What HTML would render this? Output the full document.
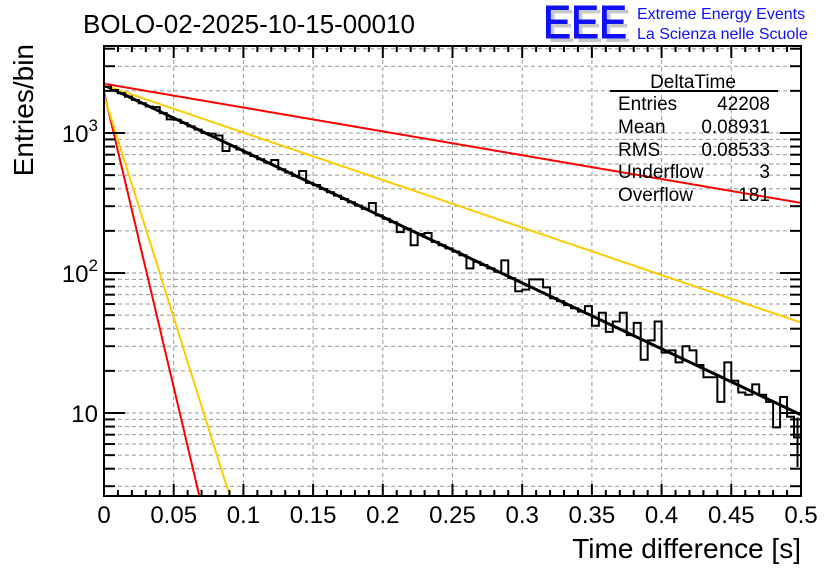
<!DOCTYPE html>
<html><head><meta charset="utf-8"><style>
html,body{margin:0;padding:0;background:#fff}
svg{display:block;font-family:"Liberation Sans",Arial,sans-serif}
</style></head><body>
<svg id="chart" width="836" height="572" viewBox="0 0 836 572" xmlns="http://www.w3.org/2000/svg">
<defs><clipPath id="plotclip"><rect x="104" y="46" width="697" height="450"/></clipPath></defs>
<rect x="0" y="0" width="836" height="572" fill="#fff"/>
<text x="83" y="33" font-size="26" textLength="332" lengthAdjust="spacingAndGlyphs">BOLO-02-2025-10-15-00010</text>
<g>
<text x="547" y="42" font-size="46" fill="#c8c8c8" textLength="84" lengthAdjust="spacingAndGlyphs">EEE</text>
<text x="543" y="38" font-size="46" fill="#1010ff" textLength="84" lengthAdjust="spacingAndGlyphs" stroke="#1010ff" stroke-width="1">EEE</text>
<text x="637" y="19" font-size="16" fill="#1010ff">Extreme Energy Events</text>
<text x="637" y="39" font-size="16" fill="#1010ff">La Scienza nelle Scuole</text>
</g>
<g id="grid"></g>
<g id="fits" clip-path="url(#plotclip)"></g>
<g id="hist" clip-path="url(#plotclip)"></g>
<g id="axes"></g>
<text x="801" y="558" font-size="28" text-anchor="end">Time difference [s]</text>
<text transform="translate(33,44) rotate(-90)" font-size="28" text-anchor="end">Entries/bin</text>
<g font-size="19">
<text x="693" y="88" text-anchor="middle">DeltaTime</text>
<line x1="610" y1="91" x2="778" y2="91" stroke="#000" stroke-width="2"/>
<text x="618" y="110">Entries</text><text x="770" y="110" text-anchor="end">42208</text>
<text x="618" y="133">Mean</text><text x="770" y="133" text-anchor="end">0.08931</text>
<text x="618" y="156">RMS</text><text x="770" y="156" text-anchor="end">0.08533</text>
<text x="618" y="178">Underflow</text><text x="770" y="178" text-anchor="end">3</text>
<text x="618" y="201">Overflow</text><text x="770" y="201" text-anchor="end">181</text>
</g>
</svg>
<script>
const binWidth = 0.005;
const counts = [2141,2028,1921,1819,1723,1632,1546,1530,1387,1250,1244,1179,1116,1057,1001,990,960,743,806,763,
723,685,649,614,642,551,522,494,535,440,425,398,377,357,338,320,303,287,316,258,
244,231,196,207,158,190,193,167,158,150,142,134,108,120,114,108,102,123,92,74,
76,90,90,79,66,63,59,56,53,58,42,52,38,45,52,36,44,24,33,45,
27,28,23,30,28,22,18,18,12,23,17,14,13.5,16,13.5,12,7.9,13,9.4,6.7];
const fitAmp = [2200, 2250, 2200, 1960, 1850];
const fitTau = [0.0922, 0.255, 0.128, 0.0103, 0.0137];
const fitColor = ["#000000", "#ff0000", "#ffcc00", "#ff0000", "#ffcc00"];
const xTicks = [0,0.05,0.1,0.15,0.2,0.25,0.3,0.35,0.4,0.45,0.5];
const xTickLabels = ["0","0.05","0.1","0.15","0.2","0.25","0.3","0.35","0.4","0.45","0.5"];
const yDecades = [10,100,1000];

const X0=104,X1=801,Y0=496,Y1=46;
const xs = t => X0 + t/0.5*(X1-X0);
const ys = v => 413 - 140*(Math.log10(v)-1);
const NS="http://www.w3.org/2000/svg";
function mk(tag, attrs, parent){const e=document.createElementNS(NS,tag);for(const k in attrs)e.setAttribute(k,attrs[k]);parent.appendChild(e);return e;}
const grid=document.getElementById('grid'), axes=document.getElementById('axes'), fits=document.getElementById('fits'), hist=document.getElementById('hist');

const yTicks=[];
for(let d=1; d<=1000; d*=10){for(let m=1;m<=9;m++){const v=d*m; const y=ys(v); if(y<=Y0&&y>=Y1) yTicks.push([v,y,m===1]);}}
xTicks.forEach(t=>{ if(t>0&&t<0.5){const l=mk('line',{x1:xs(t),x2:xs(t),y1:Y1,y2:Y0,stroke:'#999','stroke-dasharray':'4,3','stroke-width':1},grid);

}});
yTicks.forEach(([v,y])=>{const l=mk('line',{x1:X0,x2:X1,y1:y,y2:y,stroke:'#999','stroke-dasharray':'4,3','stroke-width':1},grid);

});

for(let k=0;k<fitAmp.length;k++){
  let pts=[];
  for(let i=0;i<=500;i++){const t=i*0.001; const v=fitAmp[k]*Math.exp(-t/fitTau[k]); if(v<0.5)break; pts.push(xs(t).toFixed(1)+','+ys(v).toFixed(1));}
  const p=mk('polyline',{points:pts.join(' '),fill:'none',stroke:fitColor[k],'stroke-width':k===0?3:2},fits);
  
  
}
let d='';
counts.forEach((c,i)=>{const xa=xs(i*binWidth), xb=xs((i+1)*binWidth), y=ys(c);
  d += (i===0?'M'+xa+','+y:'L'+xa+','+y)+' L'+xb+','+y+' ';});
const h=mk('path',{d:d,fill:'none',stroke:'#000','stroke-width':2},hist);


const last=counts[counts.length-1], xl=xs((counts.length-0.5)*binWidth);
const eb=mk('line',{x1:xl,x2:xl,y1:ys(last+Math.sqrt(last)),y2:ys(last-Math.sqrt(last)),stroke:'#000','stroke-width':2},hist);



const fr=mk('rect',{x:X0,y:Y1,width:X1-X0,height:Y0-Y1,fill:'none',stroke:'#000','stroke-width':2},axes);


for(let i=0;i<=50;i++){const t=i*0.01, x=xs(t), major=(i%5===0), L=major?12:6;
  mk('line',{x1:x,x2:x,y1:Y0,y2:Y0-L,stroke:'#000','stroke-width':2},axes);
  mk('line',{x1:x,x2:x,y1:Y1,y2:Y1+L,stroke:'#000','stroke-width':2},axes);}
xTicks.forEach((t,i)=>{const tx=mk('text',{x:xs(t),y:523,'font-size':24,'text-anchor':'middle'},axes);tx.textContent=xTickLabels[i];

});
yTicks.forEach(([v,y,major])=>{const L=major?21:11;
  mk('line',{x1:X0,x2:X0+L,y1:y,y2:y,stroke:'#000','stroke-width':2},axes);
  mk('line',{x1:X1,x2:X1-L,y1:y,y2:y,stroke:'#000','stroke-width':2},axes);});
yDecades.forEach(v=>{const y=ys(v);const tx=mk('text',{x:98,y:y+9,'font-size':24,'text-anchor':'end'},axes);
  const exp=Math.round(Math.log10(v));
  if(exp===1){tx.textContent='10';}
  else{tx.textContent='10';const s=mk('tspan',{dy:-11,'font-size':17},tx);s.textContent=String(exp);}
  
  });
</script>
</body></html>
